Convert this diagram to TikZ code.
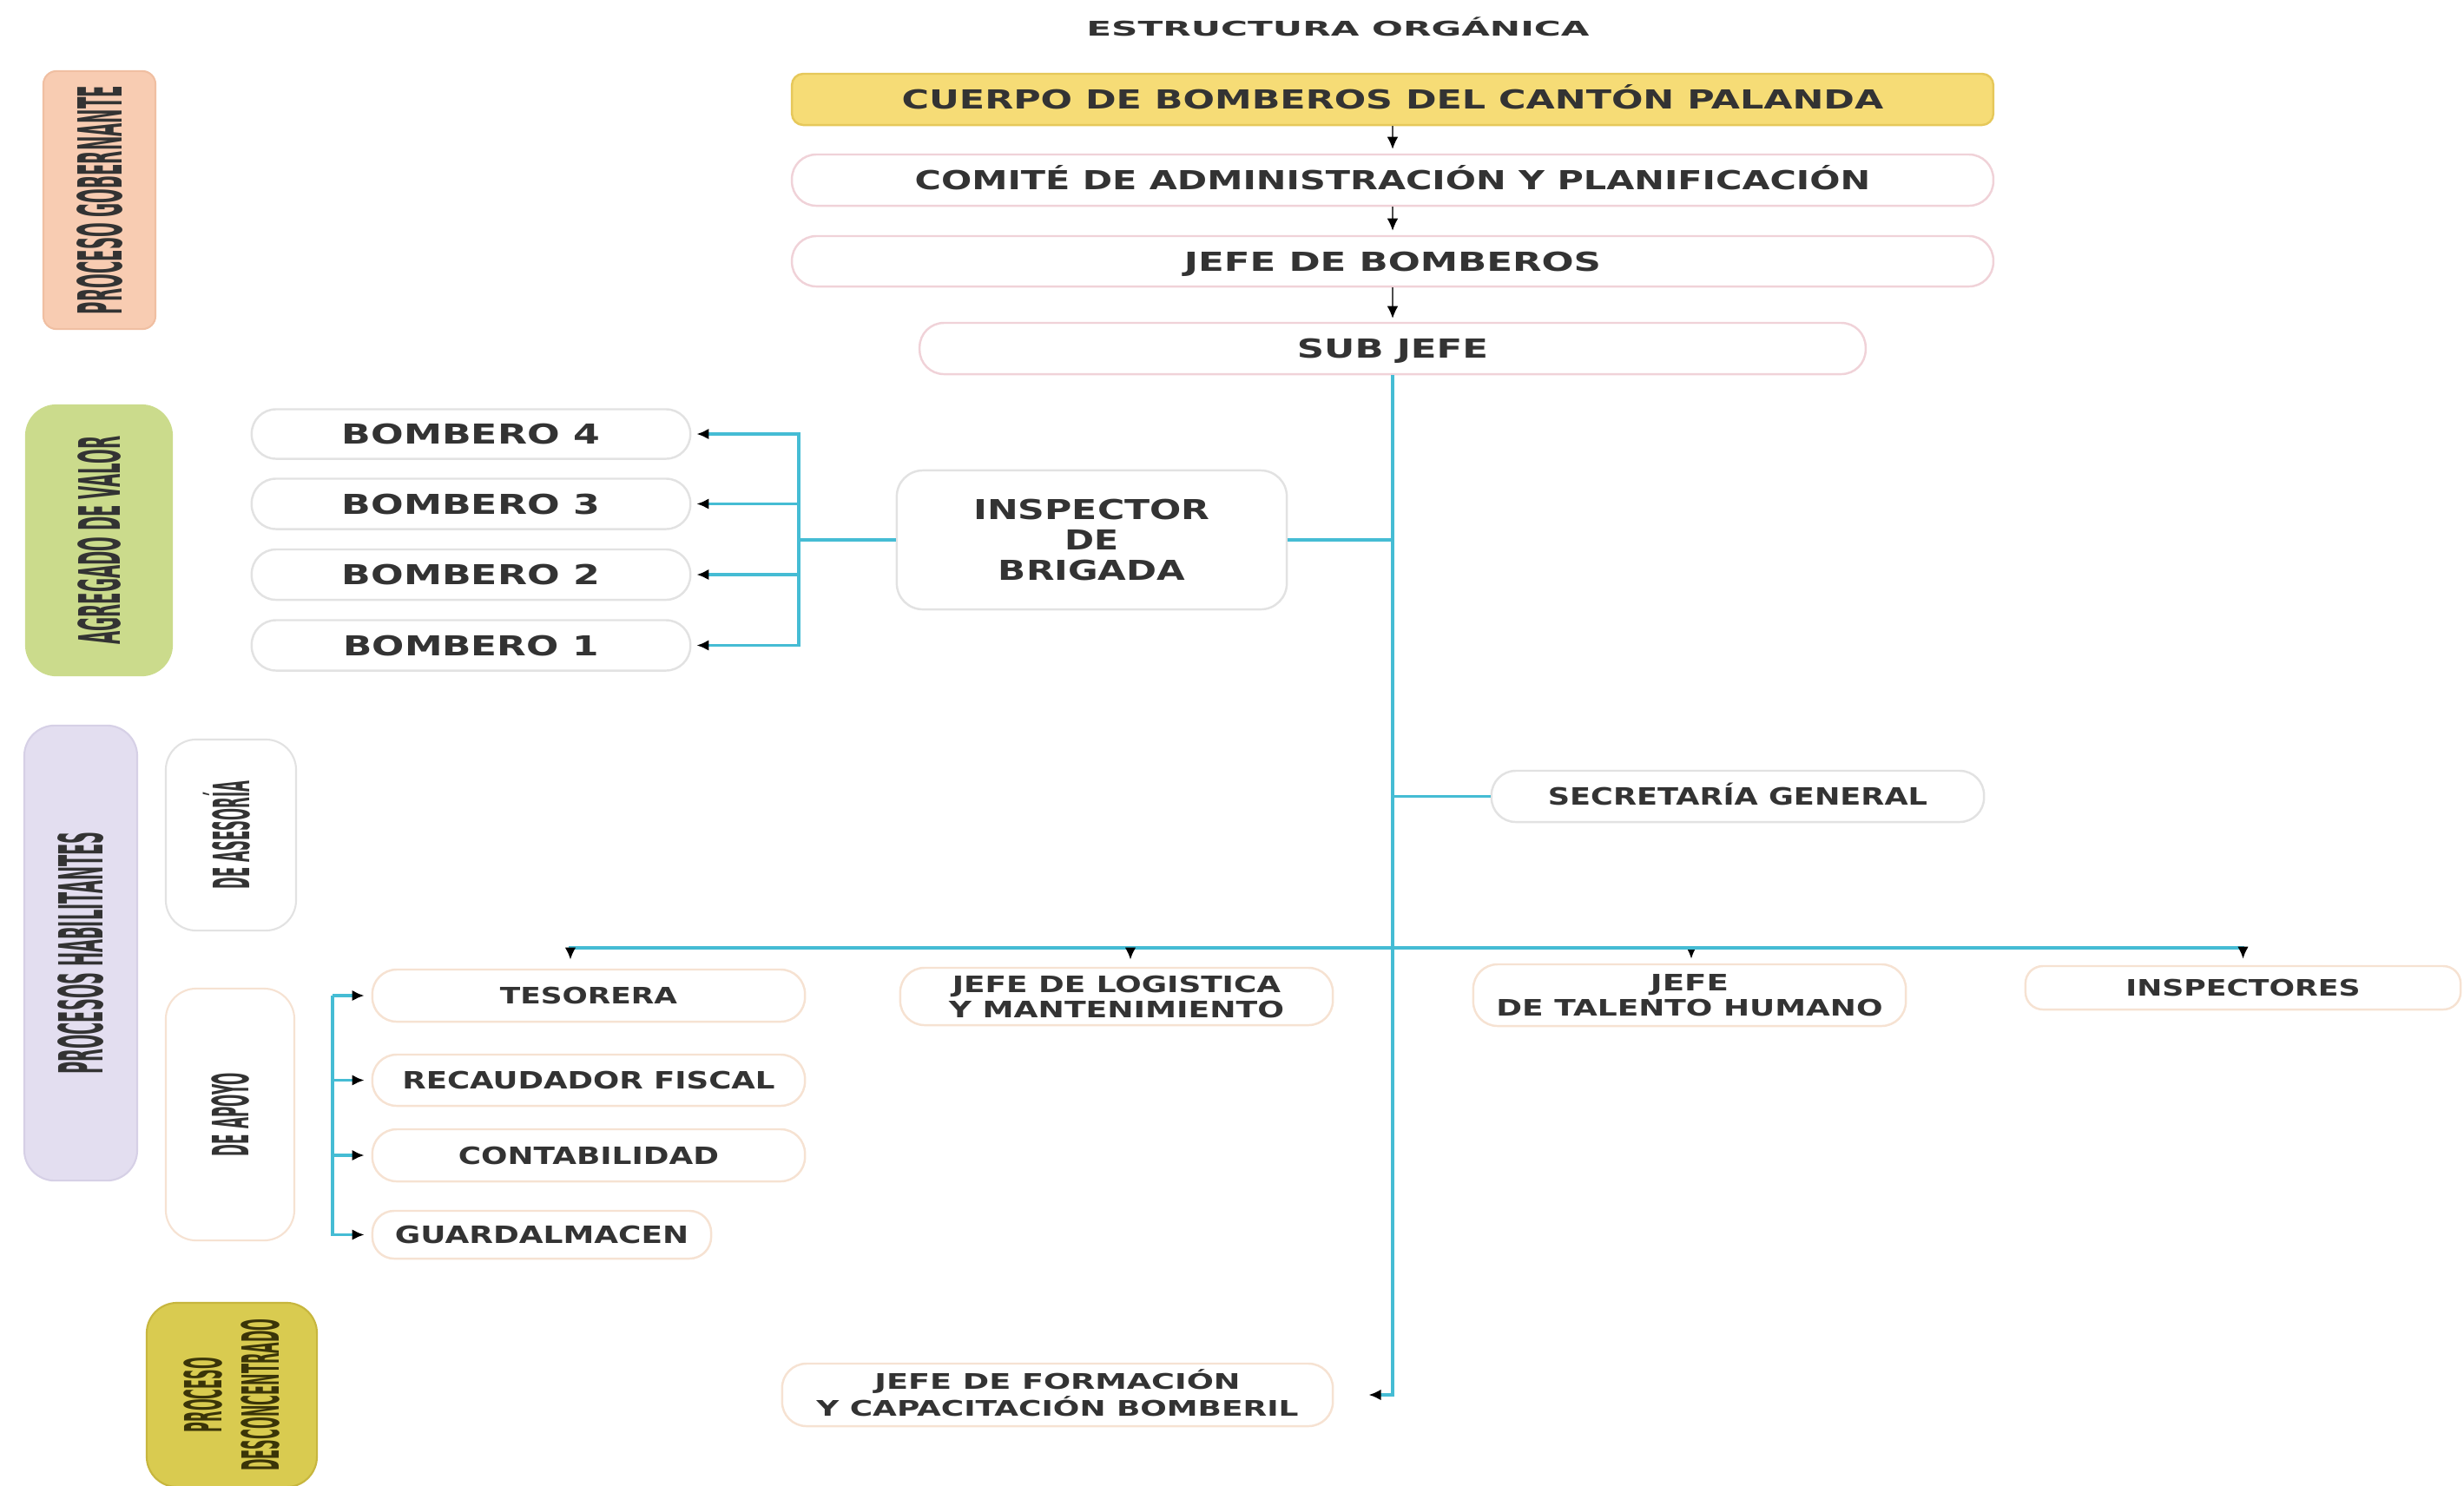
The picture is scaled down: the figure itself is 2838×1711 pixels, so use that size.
\documentclass[tikz,border=0pt]{standalone}
\usepackage{fontspec}
\setmainfont{DejaVu Sans}
\usepackage{graphicx}
\usetikzlibrary{arrows.meta,calc}

\newsavebox\txtbox
\newlength\txtw
\newlength\capl
\newlength\pxu
\setlength\pxu{0.28453pt}
% #1 = width in px, #2 = cap height in px, #3 = text
\newcommand\fitt[3]{\sbox\txtbox{#3}\setlength\txtw{\wd\txtbox}\setlength\capl{\fontcharht\font`H}%
\pgfmathsetmacro\xfac{#1*0.28453/\txtw}\pgfmathsetmacro\yfac{#2*0.28453/\capl}%
\raisebox{0pt}[#2\pxu][0pt]{\scalebox{\xfac}[\yfac]{\usebox\txtbox}}}

\definecolor{txt}{HTML}{333333}
\definecolor{cy}{HTML}{45BCD4}
\definecolor{yel}{HTML}{F6DC76}
\definecolor{yelb}{HTML}{E6C85A}
\definecolor{pinkb}{HTML}{F0D2D8}
\definecolor{grayb}{HTML}{E2E2E2}
\definecolor{peachb}{HTML}{F6E2D2}
\definecolor{gobf}{HTML}{F8CCB2}
\definecolor{gobb}{HTML}{F0BFA2}
\definecolor{agrf}{HTML}{CBDB8C}
\definecolor{habf}{HTML}{E3DEF0}
\definecolor{habb}{HTML}{D6D0E6}
\definecolor{descf}{HTML}{D9CB50}
\definecolor{descb}{HTML}{C7B63E}
\definecolor{desct}{HTML}{3A3408}

\tikzset{
  >={Latex[length=4pt,width=3.6pt,color=black]},
  box/.style={draw=pinkb, line width=0.7pt, rounded corners=0.28cm, inner sep=0pt,
    text=txt, font=\bfseries, fill=white},
  lab/.style={line width=0.6pt, rounded corners=0.35cm, inner sep=0pt, text=txt, font=\bfseries},
  gline/.style={draw=black!70, line width=0.4pt, ->},
  cline/.style={draw=cy, line width=0.9pt},
}

\begin{document}
\begin{tikzpicture}[x=0.01cm, y=-0.01cm]
\useasboundingbox (0,0) rectangle (2838,1711);
\clip (0,0) rectangle (2838,1711);

% title
\node[font=\bfseries, text=txt, inner sep=0pt] (title) at (1541,33) {\fitt{579}{17}{ESTRUCTURA ORGÁNICA}};

% top chain
\node[box, fill=yel, draw=yelb, rounded corners=0.13cm, minimum width=13.83cm, minimum height=0.59cm] (cuerpo) at (1604,114.5)
  {\fitt{1130}{22}{CUERPO DE BOMBEROS DEL CANTÓN PALANDA}};
\node[box, minimum width=13.83cm, minimum height=0.59cm] (comite) at (1604,207.5)
  {\fitt{1100}{22}{COMITÉ DE ADMINISTRACIÓN Y PLANIFICACIÓN}};
\node[box, minimum width=13.83cm, minimum height=0.58cm] (jefe) at (1604,301)
  {\fitt{480}{22}{JEFE DE BOMBEROS}};
\node[box, minimum width=10.89cm, minimum height=0.59cm] (subjefe) at (1604,401.5)
  {\fitt{220}{22}{SUB JEFE}};

% left category labels
\node[lab, fill=gobf, draw=gobb, rounded corners=0.15cm, minimum width=1.29cm, minimum height=2.97cm] (gob) at (114.5,230.5)
  {\rotatebox{90}{\fitt{263}{51}{PROCESO GOBERNANTE}}};
\node[lab, fill=agrf, draw=agrf, minimum width=1.68cm, minimum height=3.11cm] (agr) at (114,622.5)
  {\rotatebox{90}{\fitt{240}{48}{AGREGADO DE VALOR}}};
\node[lab, fill=habf, draw=habb, minimum width=1.30cm, minimum height=5.24cm] (hab) at (93,1098)
  {\rotatebox{90}{\fitt{279}{51}{PROCESOS HABILITANTES}}};
\node[lab, fill=white, draw=grayb, minimum width=1.50cm, minimum height=2.20cm] (ases) at (266,962)
  {\rotatebox{90}{\fitt{124}{42}{DE ASESORÍA}}};
\node[lab, fill=white, draw=peachb, minimum width=1.48cm, minimum height=2.90cm] (apoyo) at (265,1284)
  {\rotatebox{90}{\fitt{96}{42}{DE APOYO}}};
\node[lab, rotate=90, fill=descf, draw=descb, text=desct, minimum width=2.12cm, minimum height=1.96cm,
  align=center, font=\bfseries\fontsize{8}{18.7pt}\selectfont] (desc) at (267,1607)
  {\fitt{86}{43}{PROCESO}\\\fitt{175}{43}{DESCONCENTRADO}};

% bomberos
\node[box, draw=grayb, minimum width=5.05cm, minimum height=0.57cm] (b4) at (542.5,500) {\fitt{297}{23}{BOMBERO 4}};
\node[box, draw=grayb, minimum width=5.05cm, minimum height=0.58cm] (b3) at (542.5,580.5) {\fitt{297}{23}{BOMBERO 3}};
\node[box, draw=grayb, minimum width=5.05cm, minimum height=0.58cm] (b2) at (542.5,662) {\fitt{297}{23}{BOMBERO 2}};
\node[box, draw=grayb, minimum width=5.05cm, minimum height=0.58cm] (b1) at (542.5,743.5) {\fitt{294}{23}{BOMBERO 1}};

\node[box, draw=grayb, rounded corners=0.3cm, minimum width=4.49cm, minimum height=1.6cm, align=center,
  font=\bfseries\fontsize{8}{9.96pt}\selectfont] (insp) at (1257.5,622)
  {\fitt{272}{23}{INSPECTOR}\\\fitt{62}{23}{DE}\\\fitt{215}{23}{BRIGADA}};

\node[box, draw=grayb, minimum width=5.67cm, minimum height=0.59cm] (secre) at (2001.5,917.5)
  {\fitt{437}{20}{SECRETARÍA GENERAL}};

% second level
\node[box, draw=peachb, minimum width=4.98cm, minimum height=0.60cm] (teso) at (678,1147)
  {\fitt{204}{19}{TESORERA}};
\node[box, draw=peachb, minimum width=4.98cm, minimum height=0.66cm, align=center,
  font=\bfseries\fontsize{7}{8.25pt}\selectfont] (logis) at (1286,1148)
  {\fitt{378}{19}{JEFE DE LOGISTICA}\\\fitt{386}{19}{Y MANTENIMIENTO}};
\node[box, draw=peachb, minimum width=4.98cm, minimum height=0.71cm, align=center,
  font=\bfseries\fontsize{7}{8.5pt}\selectfont] (talento) at (1946,1146.5)
  {\fitt{90}{19}{JEFE}\\\fitt{445}{19}{DE TALENTO HUMANO}};
\node[box, draw=peachb, rounded corners=0.2cm, minimum width=5.01cm, minimum height=0.50cm] (inspectores) at (2583.5,1138)
  {\fitt{270}{19}{INSPECTORES}};
\node[box, draw=peachb, minimum width=4.98cm, minimum height=0.59cm] (recaud) at (678,1244.5)
  {\fitt{429}{20}{RECAUDADOR FISCAL}};
\node[box, draw=peachb, minimum width=4.98cm, minimum height=0.60cm] (conta) at (678,1331)
  {\fitt{300}{20}{CONTABILIDAD}};
\node[box, draw=peachb, rounded corners=0.25cm, minimum width=3.90cm, minimum height=0.55cm] (guard) at (624,1422.5)
  {\fitt{338}{20}{GUARDALMACEN}};
\node[box, draw=peachb, minimum width=6.34cm, minimum height=0.72cm, align=center,
  font=\bfseries\fontsize{7}{8.8pt}\selectfont] (formacion) at (1218,1607)
  {\fitt{421}{18}{JEFE DE FORMACIÓN}\\\fitt{555}{18}{Y CAPACITACIÓN BOMBERIL}};

% top grey arrows
\draw[gline, shorten >=0.05cm] (cuerpo.south) -- (comite.north);
\draw[gline, shorten >=0.05cm] (comite.south) -- (jefe.north);
\draw[gline, shorten >=0.04cm] (jefe.south) -- (subjefe.north);

% main trunk
\draw[cline, ->, shorten >=0.40cm] (subjefe.south) |- (formacion.east);
\draw[cline] (insp.east) -- (insp.east -| subjefe.south);
\draw[cline] (secre.west) -- (secre.west -| subjefe.south);

% bombero bracket
\coordinate (bk) at (920,622);
\draw[cline] (insp.west) -- (bk);
\foreach \b in {b1,b2,b3,b4}
  \draw[cline, ->, shorten >=0.06cm] (bk) |- (\b.east);

% distribution line
\coordinate (dist) at (1604,1092);
\draw[cline, ->, shorten >=0.10cm] (dist) -| ([xshift=-0.21cm]teso.north);
\draw[cline, ->, shorten >=0.08cm] (dist) -| ([xshift=0.16cm]logis.north);
\draw[cline, ->, shorten >=0.05cm] (dist) -| ([xshift=0.02cm]talento.north);
\draw[cline, ->, shorten >=0.07cm] (dist) -| (inspectores.north);

% apoyo bracket
\coordinate (apk) at (383,1147);
\foreach \b in {teso,recaud,conta,guard}
  \draw[cline, ->, shorten >=0.08cm] (apk) |- (\b.west);
\end{tikzpicture}
\end{document}
